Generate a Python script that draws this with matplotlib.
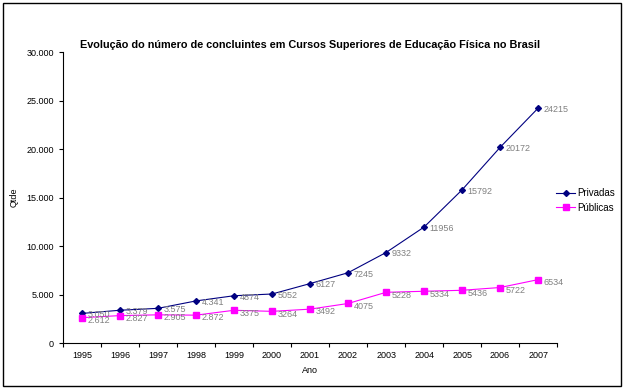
import matplotlib.pyplot as plt
from matplotlib.patches import Rectangle
from matplotlib.ticker import FuncFormatter

plt.rcParams['font.family'] = ['Liberation Sans', 'DejaVu Sans']

# Dados
anos = ['1995', '1996', '1997', '1998', '1999', '2000', '2001',
        '2002', '2003', '2004', '2005', '2006', '2007']
privadas = [3050, 3379, 3575, 4341, 4874, 5052, 6127, 7245, 9332, 11956, 15792, 20172, 24215]
publicas = [2612, 2827, 2905, 2872, 3375, 3264, 3492, 4075, 5228, 5334, 5436, 5722, 6534]
rot_privadas = ['3.050', '3.379', '3.575', '4.341', '4874', '5052', '6127',
                '7245', '9332', '11956', '15792', '20172', '24215']
rot_publicas = ['2.612', '2.827', '2.905', '2.872', '3375', '3264', '3492',
                '4075', '5228', '5334', '5436', '5722', '6534']

fig = plt.figure(figsize=(6.27, 3.9), dpi=100)
fig.patches.append(Rectangle((0.005, 0.01), 0.986, 0.982, transform=fig.transFigure,
                             fill=False, edgecolor='black', linewidth=1))

ax = fig.add_axes([0.1005, 0.1205, 0.788, 0.746])
x = list(range(len(anos)))

ax.plot(x, privadas, color='#000080', marker='D', markersize=3, linewidth=0.8, label='Privadas')
ax.plot(x, publicas, color='#FF00FF', marker='s', markersize=4, linewidth=0.8, label='Públicas')

for xi, v, t in zip(x, privadas, rot_privadas):
    ax.annotate(t, (xi, v), xytext=(4, -1), textcoords='offset points',
                fontsize=6.5, color='#808080', va='center', ha='left')
for xi, v, t in zip(x, publicas, rot_publicas):
    ax.annotate(t, (xi, v), xytext=(4, -2), textcoords='offset points',
                fontsize=6.5, color='#808080', va='center', ha='left')

ax.set_xlim(-0.5, len(anos) - 0.5)
ax.set_ylim(0, 30000)
ax.set_yticks(range(0, 30001, 5000))
ax.yaxis.set_major_formatter(FuncFormatter(lambda v, p: f'{int(v):,}'.replace(',', '.')))
ax.set_xticks([i - 0.5 for i in range(len(anos) + 1)])
ax.set_xticklabels([])
ax.set_xticks(x, minor=True)
ax.set_xticklabels(anos, minor=True)
ax.tick_params(axis='x', which='minor', length=0, labelsize=6.5, pad=6)
ax.tick_params(axis='x', which='major', length=3, width=0.8)
ax.tick_params(axis='y', length=3, width=0.8, labelsize=6.5)

for s in ['top', 'right']:
    ax.spines[s].set_visible(False)
ax.spines['left'].set_linewidth(0.8)
ax.spines['bottom'].set_linewidth(0.8)

ax.set_xlabel('Ano', fontsize=6.5, labelpad=4)
ax.set_ylabel('Qtde', fontsize=6.5, labelpad=6)
ax.set_title('Evolução do número de concluintes em Cursos Superiores de Educação Física no Brasil',
             fontsize=7.8, fontweight='bold', pad=3)

ax.legend(loc='center left', bbox_to_anchor=(0.99, 0.49), frameon=False, fontsize=7,
          handlelength=2, handletextpad=0.2, labelspacing=0.5, borderaxespad=0.0)

fig.savefig('out.png', dpi=100)
